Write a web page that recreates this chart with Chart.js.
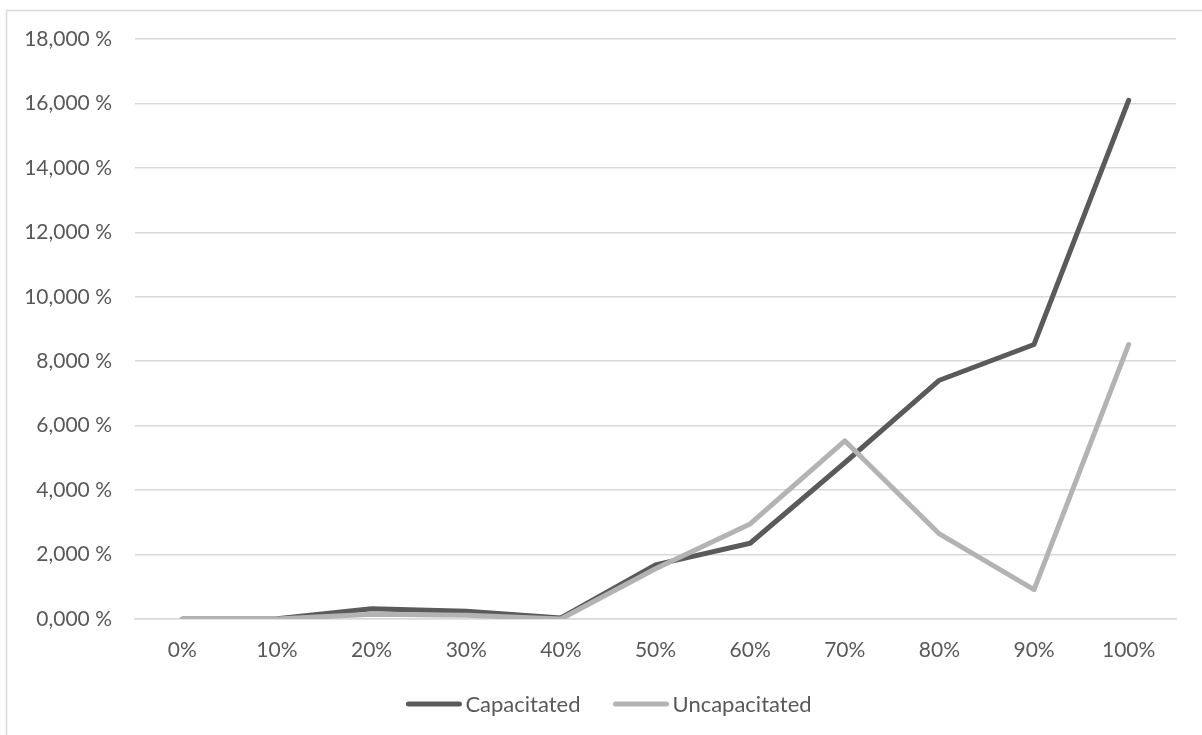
<!DOCTYPE html>
<html>
<head>
<meta charset="utf-8">
<script src="https://cdn.jsdelivr.net/npm/chart.js@4/dist/chart.umd.min.js"></script>
<style>
  html, body { margin: 0; padding: 0; background: #ffffff; }
  #wrap { width: 1202px; height: 735px; }
</style>
</head>
<body>
<div id="wrap"><canvas id="c" width="1202" height="735"></canvas></div>
<script>
// Load levels on the x axis
const categories = ['0%', '10%', '20%', '30%', '40%', '50%', '60%', '70%', '80%', '90%', '100%'];

// Values in percent
const capacitated   = [0, 0.01, 0.32, 0.24, 0.03, 1.68, 2.35, 4.85, 7.41, 8.52, 16.1];
const uncapacitated = [0, 0, 0.15, 0.12, 0, 1.56, 2.95, 5.53, 2.64, 0.91, 8.52];

const yMin = 0;
const yMax = 18;
const yStep = 2;

const textColor = '#595959';
const gridColor = '#d9d9d9';
const fontFamily = 'Lato, "Open Sans", sans-serif';

function formatPercent(v) {
  return v.toFixed(3).replace('.', ',') + ' %';
}

// Thin frame around the chart
const framePlugin = {
  id: 'frame',
  beforeDraw(chart) {
    const ctx = chart.ctx;
    ctx.save();
    ctx.fillStyle = '#ffffff';
    ctx.fillRect(0, 0, chart.width, chart.height);
    ctx.strokeStyle = '#d9d9d9';
    ctx.lineWidth = 1.5;
    ctx.strokeRect(6.5, 10.5, chart.width + 20, chart.height + 20);
    ctx.restore();
  }
};

// Legend row under the axis: a line sample followed by the series name
const lineLegendPlugin = {
  id: 'lineLegend',
  afterDraw(chart, args, opts) {
    const ctx = chart.ctx;
    const sets = chart.data.datasets;
    ctx.save();
    ctx.font = `${opts.fontSize}px ${fontFamily}`;
    ctx.textBaseline = 'middle';
    ctx.textAlign = 'left';
    const widths = sets.map(ds => opts.sample + opts.gap + ctx.measureText(ds.label).width);
    const total = widths.reduce((a, b) => a + b, 0) + opts.itemGap * (sets.length - 1);
    let x = opts.centerX - total / 2;
    const y = opts.y;
    sets.forEach((ds, i) => {
      ctx.strokeStyle = ds.borderColor;
      ctx.lineWidth = ds.borderWidth;
      ctx.lineCap = 'round';
      ctx.beginPath();
      ctx.moveTo(x + 2, y);
      ctx.lineTo(x + opts.sample - 2, y);
      ctx.stroke();
      ctx.fillStyle = textColor;
      ctx.fillText(ds.label, x + opts.sample + opts.gap, y + 1);
      x += widths[i] + opts.itemGap;
    });
    ctx.restore();
  }
};

new Chart(document.getElementById('c'), {
  type: 'line',
  data: {
    labels: categories,
    datasets: [
      {
        label: 'Capacitated',
        data: capacitated,
        borderColor: '#5a5a5a',
        backgroundColor: '#5a5a5a',
        borderWidth: 5,
        pointRadius: 0,
        borderCapStyle: 'round',
        borderJoinStyle: 'round',
        tension: 0,
        order: 1
      },
      {
        label: 'Uncapacitated',
        data: uncapacitated,
        borderColor: '#b3b3b3',
        backgroundColor: '#b3b3b3',
        borderWidth: 5,
        pointRadius: 0,
        borderCapStyle: 'round',
        borderJoinStyle: 'round',
        tension: 0,
        order: 0
      }
    ]
  },
  options: {
    responsive: false,
    animation: false,
    layout: { padding: { top: 39, right: 26, left: 0, bottom: 72 } },
    plugins: {
      tooltip: { enabled: false },
      legend: { display: false },
      lineLegend: { centerX: 609, y: 704, sample: 55, gap: 4, itemGap: 33, fontSize: 22 }
    },
    scales: {
      x: {
        offset: true,
        grid: { display: false, drawTicks: false },
        border: { display: true, color: gridColor, width: 1.5 },
        ticks: { color: textColor, font: { family: fontFamily, size: 21 }, padding: 19, maxRotation: 0 },
        afterFit(scale) { scale.height = 44; }
      },
      y: {
        min: yMin,
        max: yMax,
        grid: { color: gridColor, lineWidth: 1.5, drawTicks: false },
        border: { display: false },
        ticks: {
          stepSize: yStep,
          color: textColor,
          font: { family: fontFamily, size: 21 },
          padding: 23,
          callback: (v) => formatPercent(v)
        },
        afterFit(scale) { scale.width = 135; }
      }
    }
  },
  plugins: [framePlugin, lineLegendPlugin]
});
</script>
</body>
</html>
